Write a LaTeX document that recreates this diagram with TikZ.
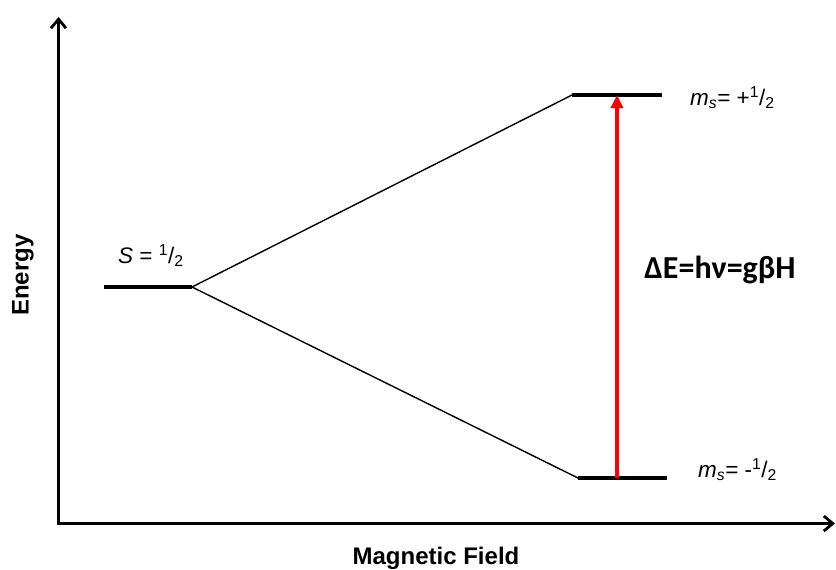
\documentclass[tikz,border=0pt]{standalone}
\usepackage{fontspec}
\setmainfont{Liberation Sans}
\newfontfamily\calfont{Carlito}
\usetikzlibrary{arrows.meta}
\definecolor{arrred}{RGB}{255,0,0}
\tikzset{
  axis/.style={line width=3.2pt, -{Straight Barb[length=9pt,width=15pt,line width=2.8pt]}},
  level/.style={line width=3.6pt},
  split/.style={line width=1.4pt},
  trans/.style={draw=arrred, line width=3.4pt, -{Triangle[length=13pt,width=12pt]}},
  lbl/.style={font=\fontsize{22.5}{26}\selectfont, inner sep=0pt},
  axlbl/.style={font=\fontsize{24}{28}\selectfont\bfseries, inner sep=0pt}
}
\begin{document}
\begin{tikzpicture}[x=1pt,y=-1pt]
\useasboundingbox (0,0) rectangle (836,570);
% axes
\coordinate (O) at (58.5,523.5);
\coordinate (ytop) at (58.5,17);
\coordinate (xend) at (835,523.5);
\draw[axis] (O) -- (ytop);
\draw[axis] (O) -- (xend);
\fill (57,522) rectangle (60.1,525.1);
% levels
\coordinate (s1) at (104,287);
\coordinate (s2) at (192,287);
\coordinate (u1) at (572,95);
\coordinate (u2) at (662,95);
\coordinate (l1) at (578,478);
\coordinate (l2) at (667,478);
\draw[level] (s1) -- (s2);
\draw[level] (u1) -- (u2);
\draw[level] (l1) -- (l2);
\draw[split] (s2) -- (u1);
\draw[split] (s2) -- (l1);
% transition
\coordinate (ta) at (617,478);
\coordinate (tb) at (617,95);
\draw[trans] (ta) -- (tb);
% labels
\node[lbl, anchor=base west] (S) at (118,263) {\textit{S} = \textsuperscript{1}/\textsubscript{2}};
\node[lbl, anchor=base west] (up) at (690,105) {\textit{m}\textsubscript{\textit{s}}= +\textsuperscript{1}/\textsubscript{2}};
\node[lbl, anchor=base west] (lo) at (698,477) {\textit{m}\textsubscript{\textit{s}}= -\textsuperscript{1}/\textsubscript{2}};
\node[inner sep=0pt, font=\fontsize{32}{36}\selectfont\calfont\bfseries] (dE) at (720,270) {ΔE=hν=gβH};
\node[axlbl, rotate=90] (en) at (23,275) {Energy};
\node[axlbl] (mf) at (436,558) {Magnetic Field};
\end{tikzpicture}
\end{document}
